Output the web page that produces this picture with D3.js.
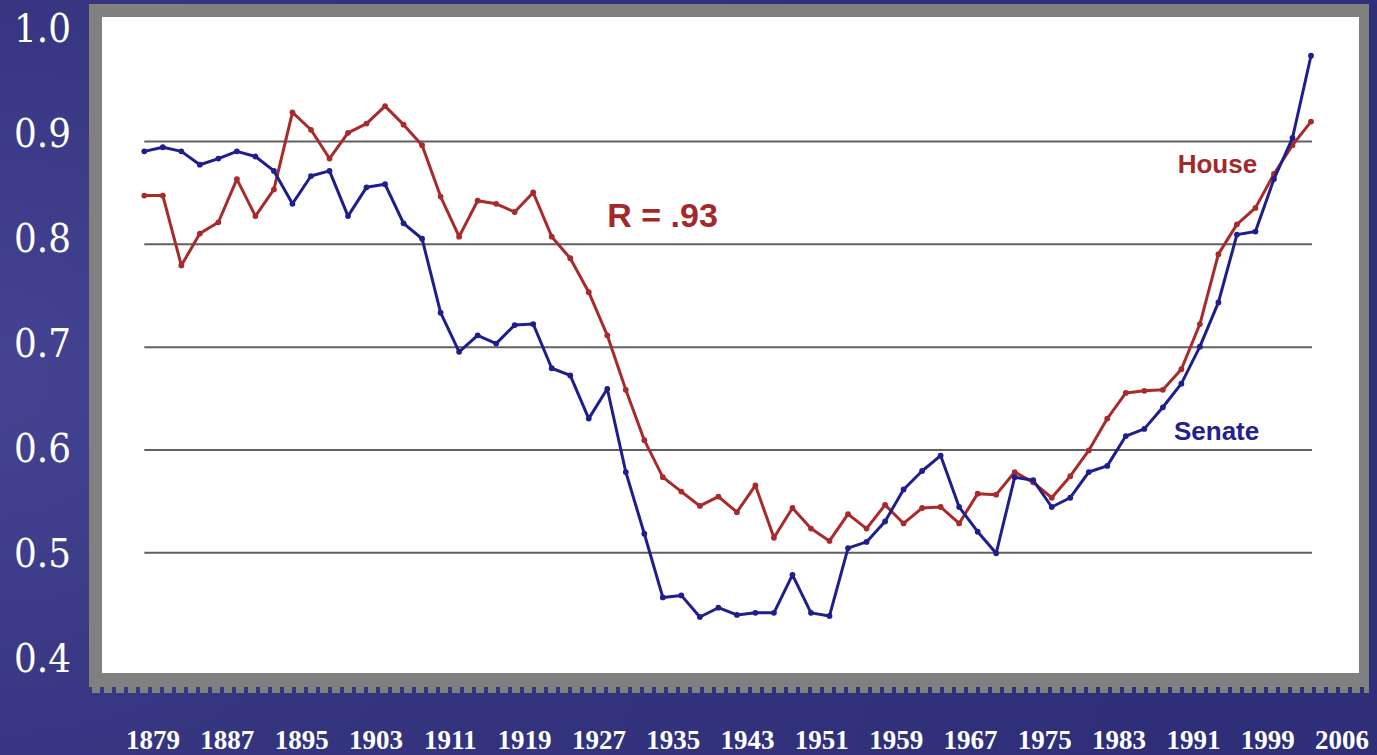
<!DOCTYPE html>
<html lang="en-us">
<head>
<meta charset="utf-8">
<title>House and Senate polarization</title>
<script src="https://cdn.jsdelivr.net/npm/d3@7"></script>
<style type="text/css">
	html, body { margin: 0; padding: 0; background: #2f2f7b; overflow: hidden; }
	svg { display: block; }
	.ylab { font-family: "DejaVu Serif", serif; font-size: 40px; fill: #fff; }
	.xlab { font-family: "Liberation Serif", serif; font-size: 27px; font-weight: bold; fill: #fff; }
	.note { font-family: "Liberation Sans", Arial, sans-serif; font-weight: bold; }
	.grid line { stroke: #606060; stroke-width: 2; }
	.grid path { display: none; }
</style>
</head>
<body>
<svg width="1377" height="755"></svg>
<script>
// one point per Congress, first year of each
var years = [1879,1881,1883,1885,1887,1889,1891,1893,1895,1897,1899,1901,1903,1905,1907,1909,
	1911,1913,1915,1917,1919,1921,1923,1925,1927,1929,1931,1933,1935,1937,1939,1941,
	1943,1945,1947,1949,1951,1953,1955,1957,1959,1961,1963,1965,1967,1969,1971,1973,
	1975,1977,1979,1981,1983,1985,1987,1989,1991,1993,1995,1997,1999,2001,2003,2005];

var senate = [0.890,0.894,0.890,0.877,0.883,0.890,0.885,0.871,0.839,0.866,0.871,0.827,0.855,0.858,0.820,0.805,
	0.733,0.695,0.711,0.703,0.721,0.722,0.679,0.672,0.630,0.659,0.578,0.518,0.456,0.458,0.437,0.446,
	0.439,0.441,0.441,0.478,0.441,0.438,0.504,0.510,0.530,0.561,0.579,0.594,0.544,0.520,0.499,0.573,
	0.570,0.544,0.553,0.578,0.584,0.613,0.620,0.641,0.664,0.700,0.743,0.809,0.812,0.863,0.903,0.983];

var house = [0.847,0.847,0.779,0.810,0.821,0.863,0.827,0.853,0.928,0.911,0.883,0.908,0.917,0.934,0.916,0.896,
	0.846,0.807,0.842,0.839,0.831,0.850,0.807,0.786,0.753,0.711,0.658,0.609,0.573,0.559,0.545,0.554,
	0.539,0.565,0.514,0.543,0.523,0.511,0.537,0.523,0.546,0.528,0.543,0.544,0.528,0.557,0.556,0.578,
	0.568,0.553,0.574,0.599,0.630,0.655,0.657,0.658,0.678,0.722,0.790,0.819,0.835,0.868,0.896,0.919];

var xLabels = ["1879","1887","1895","1903","1911","1919","1927","1935","1943","1951","1959","1967","1975","1983","1991","1999","2006"];
var yTicks = [1.0, 0.9, 0.8, 0.7, 0.6, 0.5, 0.4];
var gridTicks = [0.9, 0.8, 0.7, 0.6, 0.5];

// text placed by congress index and value
var notes = [
	{text: "R = .93", i: 25, v: 0.816, size: 34, color: "#a3282b"},
	{text: "House", i: 55.8, v: 0.869, size: 26, color: "#a3282b"},
	{text: "Senate", i: 55.6, v: 0.609, size: 26, color: "#22228a"}
];

var colorSenate = "#1e1e8c";
var colorHouse = "#a82a2a";

var svg = d3.select("svg");

// background
var defs = svg.append("defs");
var bg = defs.append("radialGradient").attr("id", "bg")
	.attr("cx", "0").attr("cy", "0.5").attr("r", "0.9")
	.attr("gradientTransform", "scale(1,1.8) translate(0,-0.22)");
bg.append("stop").attr("offset", "0").attr("stop-color", "#444493");
bg.append("stop").attr("offset", "0.35").attr("stop-color", "#34347f");
bg.append("stop").attr("offset", "1").attr("stop-color", "#2e2e79");
svg.append("rect").attr("width", 1377).attr("height", 755).attr("fill", "url(#bg)");

var notch = defs.append("pattern").attr("id", "notch")
	.attr("patternUnits", "userSpaceOnUse").attr("width", 12).attr("height", 6).attr("x", 92);
notch.append("rect").attr("width", 8).attr("height", 6).attr("fill", "#808080");

// gray frame and white plot panel
svg.append("rect").attr("x", 89).attr("y", 4).attr("width", 1280).attr("height", 683).attr("fill", "#808080");
svg.append("rect").attr("x", 89).attr("y", 687).attr("width", 1280).attr("height", 6).attr("fill", "url(#notch)");
svg.append("rect").attr("x", 102).attr("y", 17).attr("width", 1257).attr("height", 656).attr("fill", "#fff");

var x = d3.scalePoint().domain(d3.range(years.length)).range([144.3, 1311]);
var y = d3.scaleLinear().domain([0.4, 1.0]).range([655, 38.3]);
var yLab = d3.scaleLinear().domain([0.4, 1.0]).range([672, 42]);
var xLab = d3.scalePoint().domain(xLabels).range([153, 1342]);

// gridlines
svg.append("g")
	.attr("class", "grid")
	.attr("transform", "translate(144.3,0)")
	.call(d3.axisLeft(y).tickValues(gridTicks).tickSize(-(1312 - 144.3)).tickFormat(""));

var line = d3.line()
	.x(function(d, i) { return x(i); })
	.y(function(d) { return y(d); });

function drawSeries(values, color) {
	svg.append("path")
		.attr("d", line(values))
		.attr("fill", "none")
		.attr("stroke", color)
		.attr("stroke-width", 3)
		.attr("stroke-linejoin", "round");
	svg.append("g").selectAll("circle")
		.data(values)
		.join("circle")
		.attr("cx", function(d, i) { return x(i); })
		.attr("cy", function(d) { return y(d); })
		.attr("r", 2.9)
		.attr("fill", color);
}
drawSeries(house, colorHouse);
drawSeries(senate, colorSenate);

// annotations
svg.append("g").selectAll("text")
	.data(notes)
	.join("text")
	.attr("class", "note")
	.attr("x", function(d) { return x(0) + d.i * x.step(); })
	.attr("y", function(d) { return y(d.v); })
	.style("font-size", function(d) { return d.size + "px"; })
	.style("fill", function(d) { return d.color; })
	.text(function(d) { return d.text; });

// y labels
svg.append("g").selectAll("text")
	.data(yTicks)
	.join("text")
	.attr("class", "ylab")
	.attr("x", 71)
	.attr("y", function(d) { return yLab(d); })
	.attr("text-anchor", "end")
	.attr("textLength", 57)
	.attr("lengthAdjust", "spacingAndGlyphs")
	.text(d3.format(".1f"));

// x labels
svg.append("g").selectAll("text")
	.data(xLabels)
	.join("text")
	.attr("class", "xlab")
	.attr("x", function(d) { return xLab(d); })
	.attr("y", 749)
	.attr("text-anchor", "middle")
	.text(function(d) { return d; });
</script>
</body>
</html>
